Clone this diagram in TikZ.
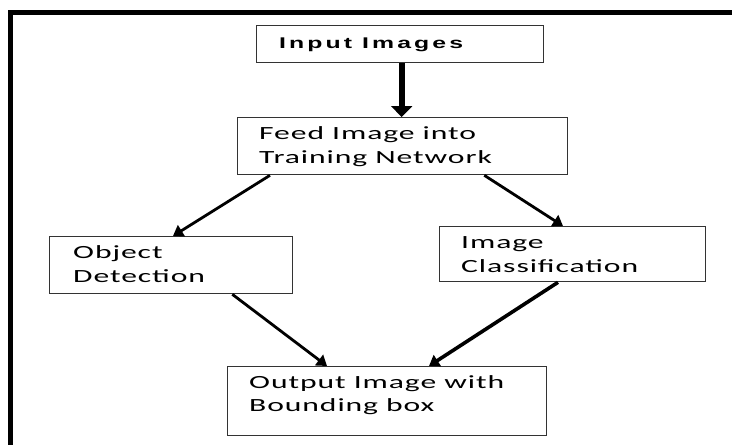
\documentclass[tikz,border=0pt]{standalone}
\usepackage{fontspec}
\usetikzlibrary{arrows.meta}
\newfontfamily\boxfont[FakeStretch=1.7,LetterSpace=5]{Carlito}
\newfontfamily\headfont[FakeStretch=1.6,LetterSpace=20]{Liberation Sans Bold}
\begin{document}
\begin{tikzpicture}[x=1pt,y=-1pt,
  box/.style={draw=black!80,line width=1.3pt,minimum width=#1,inner sep=0pt,anchor=north west},
  lbl/.style={anchor=base west,inner sep=0pt,font=\boxfont\fontsize{18.6}{24}\selectfont},
  conn/.style={line width=2.8pt,-{Triangle[length=10pt,width=13pt]}},
  frame/.style={line width=5pt}]
\useasboundingbox (0,0) rectangle (732,445);
\draw[frame] (10.5,445) -- (10.5,12.5) -- (732,12.5);
% boxes
\node[box=287pt,minimum height=37pt] (inp) at (256,25) {};
\node[box=330pt,minimum height=57pt] (feed) at (237,117) {};
\node[box=243pt,minimum height=57pt] (od) at (49,236) {};
\node[box=266pt,minimum height=55pt] (ic) at (439,226) {};
\node[box=319pt,minimum height=69pt] (out) at (227,366) {};
% texts
\node[anchor=base west,inner sep=0pt,font=\headfont\fontsize{15.5}{18}\selectfont] (tinp) at (279,48) {Input Images};
\node[lbl] (tfeed1) at (259,139) {Feed Image into};
\node[lbl] (tfeed2) at (259,163) {Training Network};
\node[lbl] (tod1) at (73,258) {Object};
\node[lbl] (tod2) at (73,282) {Detection};
\node[lbl] (tic1) at (461,248) {Image};
\node[lbl] (tic2) at (461,272) {Classification};
\node[lbl] (tout1) at (249,388) {Output Image with};
\node[lbl] (tout2) at (249,411) {Bounding box};
% connectors
\draw[line width=6pt,-{Triangle[length=11pt,width=21pt]}] ([xshift=1.5pt]inp.south) -- ([xshift=-1pt]feed.north);
\draw[conn] ([xshift=33pt]feed.south west) -- ([xshift=124pt]od.north west);
\draw[conn] ([xshift=-84pt]feed.south east) -- ([xshift=124pt]ic.north west);
\draw[conn] ([xshift=-61pt]od.south east) -- ([xshift=100pt]out.north west);
\draw[conn,line width=3.6pt] ([xshift=119pt]ic.south west) -- ([xshift=202pt]out.north west);
\end{tikzpicture}
\end{document}
